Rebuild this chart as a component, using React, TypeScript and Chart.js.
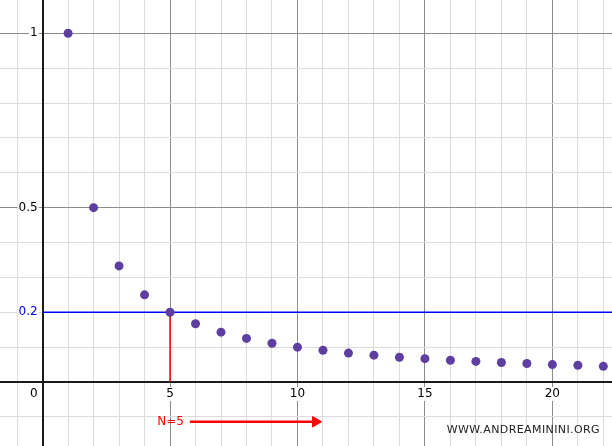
import React, { useEffect, useRef } from 'react';
import { Chart, registerables } from 'chart.js';

Chart.register(...registerables);

// Sequence a(n) = 1/n
const nValues = [1, 2, 3, 4, 5, 6, 7, 8, 9, 10, 11, 12, 13, 14, 15, 16, 17, 18, 19, 20, 21, 22];
const aValues = [
  1, 0.5, 0.333, 0.25, 0.2, 0.167, 0.143, 0.125, 0.111, 0.1, 0.091,
  0.083, 0.077, 0.071, 0.067, 0.0625, 0.059, 0.056, 0.053, 0.05, 0.048, 0.045,
];

// Visible window of the graphing view
const xMin = -1.671;
const xMax = 22.34;
const yMin = -0.1835;
const yMax = 1.0955;

// Grid lines
const xGridTicks = [-1, 0, 1, 2, 3, 4, 5, 6, 7, 8, 9, 10, 11, 12, 13, 14, 15, 16, 17, 18, 19, 20, 21, 22];
const yGridTicks = [-0.1, 0, 0.1, 0.2, 0.3, 0.4, 0.5, 0.6, 0.7, 0.8, 0.9, 1];

// Axis numbers
const xLabelValues = [5, 10, 15, 20];
const yLabelValues = [1, 0.5, 0.2];
const yLabelTexts = ['1', '0.5', '0.2'];
const yLabelColors = ['#000000', '#000000', '#0000ff'];

// Annotations
const epsilon = 0.2;
const bigN = 5;
const arrowX = [5.78, 10.71];
const arrowY = -0.114;

const AXIS = '#1a1a1a';
const MAJOR = '#8c8c8c';
const MINOR = '#dcdcdc';
const FONT = '"DejaVu Sans", sans-serif';

const labelPlugin = {
  id: 'geoLabels',
  // axes on top of all grid lines
  beforeDatasetsDraw(chart: any) {
    const { ctx, chartArea } = chart;
    const x0 = Math.round(chart.scales.x.getPixelForValue(0));
    const y0 = Math.round(chart.scales.y.getPixelForValue(0));
    ctx.save();
    ctx.strokeStyle = AXIS;
    ctx.lineWidth = 2;
    ctx.beginPath();
    ctx.moveTo(x0, chartArea.top);
    ctx.lineTo(x0, chartArea.bottom);
    ctx.moveTo(chartArea.left, y0);
    ctx.lineTo(chartArea.right, y0);
    ctx.stroke();
    ctx.restore();
  },
  afterDatasetsDraw(chart: any) {
    const { ctx } = chart;
    const xs = chart.scales.x;
    const ys = chart.scales.y;
    const x0 = xs.getPixelForValue(0);
    const y0 = ys.getPixelForValue(0);

    const label = (text: string, px: number, py: number, align: CanvasTextAlign, color: string) => {
      ctx.textAlign = align;
      const w = ctx.measureText(text).width;
      const left = align === 'right' ? px - w : align === 'center' ? px - w / 2 : px;
      ctx.fillStyle = '#ffffff';
      ctx.fillRect(left - 1, py - 7, w + 2, 14);
      ctx.fillStyle = color;
      ctx.fillText(text, px, py);
    };

    ctx.save();
    ctx.font = `12px ${FONT}`;
    ctx.textBaseline = 'middle';
    yLabelValues.forEach((v, i) => {
      label(yLabelTexts[i], x0 - 5, ys.getPixelForValue(v), 'right', yLabelColors[i]);
    });
    label('0', x0 - 5, y0 + 12, 'right', '#000000');
    xLabelValues.forEach((v) => {
      label(String(v), xs.getPixelForValue(v), y0 + 12, 'center', '#000000');
    });

    // N = 5 label
    ctx.fillStyle = '#ff0000';
    ctx.textAlign = 'right';
    ctx.fillText(`N=${bigN}`, xs.getPixelForValue(arrowX[0]) - 6, ys.getPixelForValue(arrowY));

    // watermark
    ctx.font = `11px ${FONT}`;
    (ctx as any).letterSpacing = '0.4px';
    ctx.fillStyle = '#222222';
    ctx.textAlign = 'right';
    ctx.fillText('WWW.ANDREAMININI.ORG', 600, 430);
    ctx.restore();
  },
};

const App: React.FC = () => {
  const canvasRef = useRef<HTMLCanvasElement>(null);

  useEffect(() => {
    if (!canvasRef.current) return;

    const points = nValues.map((n, i) => ({ x: n, y: aValues[i] }));

    const chart = new Chart(canvasRef.current, {
      type: 'scatter',
      data: {
        datasets: [
          {
            label: 'a(n)',
            data: points,
            pointRadius: 4.5,
            pointBackgroundColor: '#5e3ea1',
            pointBorderWidth: 0,
            order: 0,
          },
          {
            label: 'epsilon',
            data: [{ x: 0, y: epsilon }, { x: xMax, y: epsilon }],
            showLine: true,
            borderColor: '#0000ff',
            borderWidth: 1.5,
            pointRadius: 0,
            order: 2,
          },
          {
            label: 'N',
            data: [{ x: bigN, y: 0 }, { x: bigN, y: epsilon }],
            showLine: true,
            borderColor: '#ff0000',
            borderWidth: 1.5,
            pointRadius: 0,
            order: 1,
          },
          {
            label: 'arrow',
            data: [{ x: arrowX[0], y: arrowY }, { x: arrowX[1], y: arrowY }],
            showLine: true,
            borderColor: '#ff0000',
            borderWidth: 2.5,
            pointRadius: [0, 6],
            pointStyle: 'triangle',
            rotation: 90,
            pointBackgroundColor: '#ff0000',
            pointBorderColor: '#ff0000',
            pointBorderWidth: 1,
            order: 1,
          },
        ],
      },
      options: {
        responsive: false,
        animation: false,
        events: [],
        layout: { padding: 0, autoPadding: false },
        plugins: {
          legend: { display: false },
          tooltip: { enabled: false },
        },
        scales: {
          x: {
            type: 'linear',
            min: xMin,
            max: xMax,
            afterBuildTicks: (scale: any) => {
              scale.ticks = xGridTicks.map((v) => ({ value: v }));
            },
            ticks: { display: false },
            border: { display: false },
            grid: {
              drawTicks: false,
              color: (c: any) => (c.tick.value === 0 ? AXIS : c.tick.value % 5 === 0 ? MAJOR : MINOR),
              lineWidth: (c: any) => (c.tick.value === 0 ? 2 : 1),
            },
          },
          y: {
            type: 'linear',
            min: yMin,
            max: yMax,
            afterBuildTicks: (scale: any) => {
              scale.ticks = yGridTicks.map((v) => ({ value: v }));
            },
            ticks: { display: false },
            border: { display: false },
            grid: {
              drawTicks: false,
              color: (c: any) => {
                const k = Math.round(c.tick.value * 10);
                return k === 0 ? AXIS : k % 5 === 0 ? MAJOR : MINOR;
              },
              lineWidth: (c: any) => (Math.round(c.tick.value * 10) === 0 ? 2 : 1),
            },
          },
        },
      },
      plugins: [labelPlugin],
    });

    return () => {
      chart.destroy();
    };
  }, []);

  return (
    <div style={{ position: 'absolute', left: 0, top: 0, width: 612, height: 446, background: '#ffffff' }}>
      <canvas ref={canvasRef} width={612} height={446} />
    </div>
  );
};

export default App;
